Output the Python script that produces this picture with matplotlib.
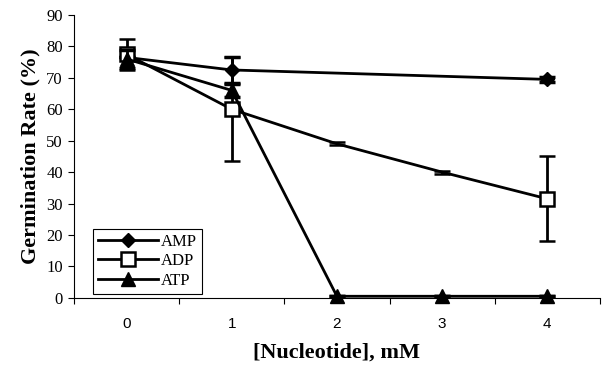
import numpy as np
import matplotlib
matplotlib.use('Agg')
import matplotlib.pyplot as plt
from matplotlib.lines import Line2D

# data
conc = [0, 1, 2, 3, 4]
amp_x = [0, 1, 4]
amp = [76.5, 72.5, 69.5]
amp_err = [0, 4, 0.8]
adp = [77.5, 60, 49, 40, 31.5]
adp_err = [5, 16.5, 0.5, 0.5, 13.5]
atp = [76, 66, 0.5, 0.5, 0.5]
atp_err = [3, 2, 0, 0, 0]

fig = plt.figure(figsize=(6.06, 3.65), dpi=100)
ax = fig.add_axes([0.122, 0.184, 0.868, 0.775])

serif = ['Liberation Serif', 'DejaVu Serif']
sans = ['Liberation Sans', 'DejaVu Sans']

common = dict(color='black', lw=2, capsize=6, capthick=2.5, elinewidth=2)
ax.errorbar(amp_x, amp, yerr=amp_err, marker='D', ms=7, mfc='black', mec='black',
            zorder=3, **common)
ax.errorbar(conc, adp, yerr=adp_err, marker='s', ms=10, mfc='white', mec='black', mew=1.8,
            markevery=[0, 1, 4], zorder=4, **common)
eb = ax.errorbar(conc, atp, yerr=atp_err, marker='^', ms=10, mfc='black', mec='black',
                 zorder=5, **common)
eb[0].set_clip_on(False)

ax.set_xlim(-0.5, 4.5)
ax.set_ylim(0, 90)
ax.set_yticks(np.arange(0, 91, 10))
ax.set_xticks(np.arange(-0.5, 4.6, 1))
ax.set_xticklabels([])
ax.set_xticks(conc, minor=True)
ax.set_xticklabels([str(c) for c in conc], minor=True, family=sans, fontsize=11)
ax.tick_params(axis='x', which='minor', length=0, pad=14)
ax.tick_params(axis='x', which='major', length=4, width=0.8, direction='out')
ax.tick_params(axis='y', length=4, width=0.8, direction='out', pad=4)
for t in ax.get_yticklabels():
    t.set_family(serif)
    t.set_fontsize(12)

ax.spines['top'].set_visible(False)
ax.spines['right'].set_visible(False)
ax.spines['left'].set_linewidth(0.8)
ax.spines['bottom'].set_linewidth(0.8)

ax.set_xlabel('[Nucleotide], mM', family=serif, fontsize=16, fontweight='bold', labelpad=8)
ax.set_ylabel('Germination Rate (%)', family=serif, fontsize=16, fontweight='bold', labelpad=4)

handles = [
    Line2D([], [], color='black', lw=2, marker='D', ms=7, mfc='black', label='AMP'),
    Line2D([], [], color='black', lw=2, marker='s', ms=10, mfc='white', mew=1.8, label='ADP'),
    Line2D([], [], color='black', lw=2, marker='^', ms=10, mfc='black', label='ATP'),
]
leg = ax.legend(handles=handles, loc='lower left', bbox_to_anchor=(0.036, 0.015),
                borderaxespad=0, prop={'family': serif, 'size': 12},
                fancybox=False, edgecolor='black', framealpha=1, handlelength=3.6,
                borderpad=0.3, labelspacing=0.2, handletextpad=0.2)
leg.get_frame().set_linewidth(0.8)

fig.savefig('out.png', dpi=100)
